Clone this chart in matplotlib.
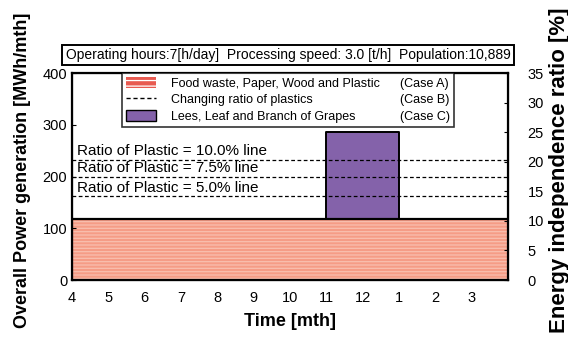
import matplotlib.pyplot as plt
from matplotlib.patches import Rectangle
from matplotlib.lines import Line2D

plt.rcParams['font.family'] = ['Liberation Sans', 'DejaVu Sans']
plt.rcParams['hatch.linewidth'] = 0.9

# month labels (tick at the start of each month)
months = ['4', '5', '6', '7', '8', '9', '10', '11', '12', '1', '2', '3']

# Case A: power generated every month [MWh/mth]
case_a = [118] * 12
# Case C: extra power from grape residues (months 11 and 12 only)
case_c = [0, 0, 0, 0, 0, 0, 0, 168, 168, 0, 0, 0]

# Case B: plastic ratio lines [MWh/mth]
ratio_labels = ['Ratio of Plastic = 10.0% line',
                'Ratio of Plastic = 7.5% line',
                'Ratio of Plastic = 5.0% line']
ratio_levels = [232, 199, 162]

fig = plt.figure(figsize=(5.68, 3.38), dpi=100)
ax = fig.add_axes([72 / 568, 58 / 338, 436 / 568, 207 / 338])

x = list(range(len(months)))
red = '#f59c86'
stripe = '#f9bfae'
purple = '#8462aa'

ax.bar(x, case_a, width=1.0, align='edge', color=red, hatch='-----',
       edgecolor=stripe, linewidth=0, zorder=1)
ax.bar(x, case_c, width=1.0, align='edge', bottom=case_a, color=purple,
       edgecolor='none', linewidth=0, zorder=1)

# outlines of the blocks
ax.plot([0, 12], [case_a[0], case_a[0]], color='black', lw=1.6, zorder=3)
c_idx = [i for i, v in enumerate(case_c) if v > 0]
c0, c1 = c_idx[0], c_idx[-1] + 1
c_top = case_a[c0] + case_c[c0]
ax.plot([c0, c0, c1, c1], [case_a[c0], c_top, c_top, case_a[c0]],
        color='black', lw=1.4, zorder=3)

for lab, lev in zip(ratio_labels, ratio_levels):
    ax.axhline(lev, color='black', lw=0.9, ls=(0, (3, 2)), zorder=2)
    ax.text(0.13, lev + 3, lab, fontsize=11, va='bottom', ha='left',
            zorder=4)

ax.set_xlim(0, 12)
ax.set_ylim(0, 400)
ax.set_xticks(x)
ax.set_xticklabels(months, fontsize=10.5)
ax.set_yticks([0, 100, 200, 300, 400])
ax.tick_params(axis='y', labelsize=10.5, direction='in', length=3)
ax.tick_params(axis='x', length=0, pad=8)
for s in ax.spines.values():
    s.set_linewidth(1.6)

ax2 = ax.twinx()
ax2.set_ylim(0, 35)
ax2.set_yticks(range(0, 40, 5))
ax2.tick_params(axis='y', labelsize=10.5, direction='in', length=3, pad=14)

ax.set_xlabel('Time [mth]', fontsize=13, fontweight='bold')
ax.xaxis.set_label_coords(0.5, -0.16)
ax.set_ylabel('Overall Power generation [MWh/mth]', fontsize=13,
              fontweight='bold')
ax.yaxis.set_label_coords(-0.095, 0.53)
ax2.set_ylabel('Energy independence ratio [%]', fontsize=16,
               fontweight='bold')
ax2.yaxis.set_label_coords(1.093, 0.53)

handles = [Rectangle((0, 0), 1, 1, facecolor='#e85a50', hatch='---',
                     edgecolor='white', lw=0),
           Line2D([], [], color='black', ls=(0, (3, 2)), lw=1),
           Rectangle((0, 0), 1, 1, facecolor=purple, edgecolor='black',
                     lw=1.0)]
blank = [Rectangle((0, 0), 1, 1, visible=False)] * 3
leg = ax2.legend(handles + blank,
                 ['Food waste, Paper, Wood and Plastic',
                  'Changing ratio of plastics',
                  'Lees, Leaf and Branch of Grapes',
                  '(Case A)', '(Case B)', '(Case C)'],
                 ncol=2, loc='upper left',
                 bbox_to_anchor=((122 - 72) / 436, 1.0),
                 fontsize=9, frameon=True, fancybox=False,
                 handlelength=2.4, handleheight=1.0, labelspacing=0.28,
                 columnspacing=-2.0, handletextpad=1.2, borderpad=0.32,
                 borderaxespad=0)
leg.get_frame().set_edgecolor('black')
leg.get_frame().set_linewidth(1.2)

fig.text(288 / 568, 1 - 55 / 338,
         'Operating hours:7[h/day]  Processing speed: 3.0 [t/h]  '
         'Population:10,889',
         ha='center', va='center', fontsize=10,
         bbox=dict(boxstyle='square,pad=0.25', facecolor='white',
                   edgecolor='black', linewidth=1.4))

fig.savefig('out.png', dpi=100)
